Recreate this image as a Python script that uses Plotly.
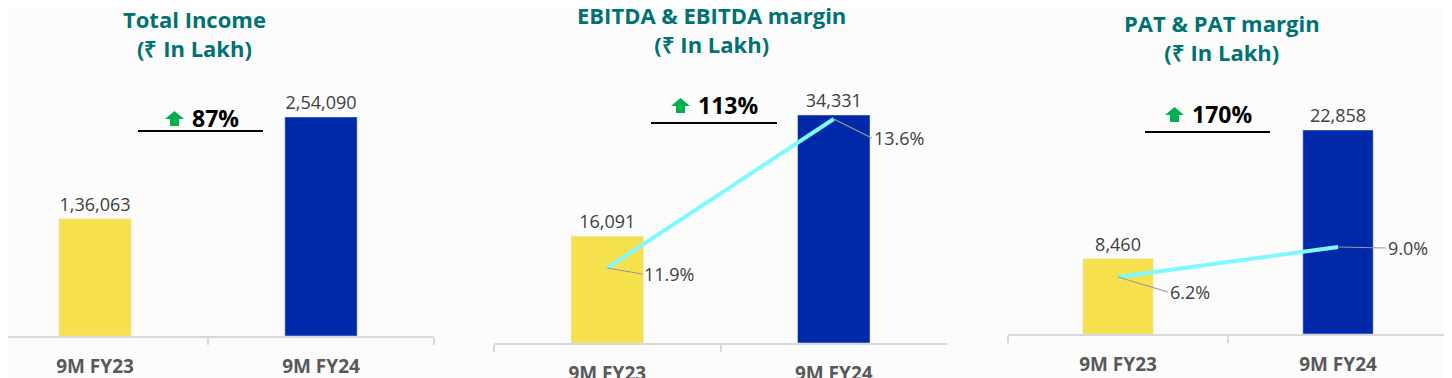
import plotly.graph_objects as go

# ---------------- data ----------------
categories = ["9M FY23", "9M FY24"]
income_vals = [136063, 254090]
ebitda_vals = [16091, 34331]
ebitda_margin = [11.9, 13.6]
pat_vals = [8460, 22858]
pat_margin = [6.2, 9.0]
titles = ["Total Income<br>(₹ In Lakh)", "EBITDA & EBITDA margin<br>(₹ In Lakh)", "PAT & PAT margin<br>(₹ In Lakh)"]

# ---------------- style ----------------
OX, OY = 8, 8          # page body margin offset
FW, FH = 1444, 370     # figure size
YELLOW = "#F6E04B"
BLUE = "#0029A9"
CYAN = "#7DF9FF"
TEAL = "#007272"
GREEN = "#00B050"
LABEL = "#404040"
CAT = "#595959"
AXIS = "#D9D9D9"
FONT = "Open Sans"


def inr(n):
    s = str(int(n))
    if len(s) <= 3:
        return s
    last3, rest = s[-3:], s[:-3]
    groups = []
    while len(rest) > 2:
        groups.insert(0, rest[-2:])
        rest = rest[:-2]
    if rest:
        groups.insert(0, rest)
    return ",".join(groups) + "," + last3


def px(x):
    return (x - OX) / FW


def py(y):
    return (FH - (y - OY)) / FH


fig = go.Figure()

bar_colors = [YELLOW, BLUE]
bar_text_font = dict(family=FONT, size=18, color=LABEL)

fig.add_trace(go.Bar(x=categories, y=income_vals, xaxis="x", yaxis="y",
                     marker=dict(color=bar_colors), width=0.32,
                     text=[inr(v) for v in income_vals], textposition="outside",
                     textfont=bar_text_font, cliponaxis=False, showlegend=False, hoverinfo="skip"))
fig.add_trace(go.Bar(x=categories, y=ebitda_vals, xaxis="x2", yaxis="y2",
                     marker=dict(color=bar_colors), width=0.32,
                     text=[inr(v) for v in ebitda_vals], textposition="outside",
                     textfont=bar_text_font, cliponaxis=False, showlegend=False, hoverinfo="skip"))
fig.add_trace(go.Scatter(x=categories, y=ebitda_margin, xaxis="x2", yaxis="y3", mode="lines",
                         line=dict(color=CYAN, width=4), showlegend=False, hoverinfo="skip"))
fig.add_trace(go.Bar(x=categories, y=pat_vals, xaxis="x3", yaxis="y4",
                     marker=dict(color=bar_colors), width=0.32,
                     text=[inr(v) for v in pat_vals], textposition="outside",
                     textfont=bar_text_font, cliponaxis=False, showlegend=False, hoverinfo="skip"))
fig.add_trace(go.Scatter(x=categories, y=pat_margin, xaxis="x3", yaxis="y5", mode="lines",
                         line=dict(color=CYAN, width=4), showlegend=False, hoverinfo="skip"))

xcommon = dict(type="category", showline=True, linecolor=AXIS, linewidth=1.5,
               ticks="outside", tickson="boundaries", ticklen=7, tickcolor=AXIS, tickwidth=1.5,
               showgrid=False, zeroline=False, fixedrange=True, automargin=False,
               tickfont=dict(family=FONT, size=19, color=CAT, weight="bold"),
               ticklabelstandoff=12)
ycommon = dict(visible=False, showgrid=False, zeroline=False, fixedrange=True, automargin=False)

top_px = 80
fig.update_layout(
    width=FW, height=FH,
    margin=dict(l=0, r=0, t=0, b=0, autoexpand=False),
    paper_bgcolor="#FCFCFC", plot_bgcolor="rgba(0,0,0,0)",
    xaxis=dict(xcommon, domain=[0, px(434)], range=[-0.385, 1.5], anchor="y"),
    xaxis2=dict(xcommon, domain=[px(494), px(947)], range=[-0.5, 1.5], anchor="y2"),
    xaxis3=dict(xcommon, domain=[px(1008), px(1448)], range=[-0.5, 1.5], anchor="y4"),
    yaxis=dict(ycommon, domain=[py(336), py(top_px)], range=[0, 297010], anchor="x"),
    yaxis2=dict(ycommon, domain=[py(343), py(top_px)], range=[0, 39601], anchor="x2"),
    yaxis3=dict(ycommon, overlaying="y2", range=[11.044, 14.045], anchor="x2"),
    yaxis4=dict(ycommon, domain=[py(334), py(top_px)], range=[0, 28461], anchor="x3"),
    yaxis5=dict(ycommon, overlaying="y4", range=[0.88, 24.59], anchor="x3"),
)

# titles
title_pos = [(194, 34), (711, 30), (1222, 38)]
for t, (cx, cy) in zip(titles, title_pos):
    fig.add_annotation(text=t, x=px(cx), y=py(cy), xref="paper", yref="paper",
                       showarrow=False, align="center", xanchor="center", yanchor="middle",
                       font=dict(family=FONT, size=22, color=TEAL, weight="bold"))

# margin labels with leader lines
margin_labels = [
    ("x2", "y3", categories[0], ebitda_margin[0], 35, 6),
    ("x2", "y3", categories[1], ebitda_margin[1], 38, 19),
    ("x3", "y5", categories[0], pat_margin[0], 50, 15),
    ("x3", "y5", categories[1], pat_margin[1], 48, 1),
]
for xr, yr, xv, yv, ax, ay in margin_labels:
    fig.add_annotation(x=xv, y=yv, xref=xr, yref=yr, text=f"{yv:.1f}%",
                       showarrow=True, arrowhead=0, arrowwidth=1.2, arrowcolor="#9A9A9A",
                       ax=ax, ay=ay, xanchor="left", yanchor="middle",
                       font=dict(family=FONT, size=18, color=LABEL))

# growth badges
growth = [
    (income_vals, 165, 111, 138, 263, 131),
    (ebitda_vals, 671, 98, 651, 777, 123),
    (pat_vals, 1165, 107, 1145, 1270, 132),
]
for vals, ax0, atop, l0, l1, ly in growth:
    g = round((vals[1] / vals[0] - 1) * 100)
    aw, ah = 19, 15
    head_h = 8
    sx0, sx1 = ax0 + 5, ax0 + aw - 5
    pts = [(ax0, atop + head_h), (ax0 + aw / 2, atop), (ax0 + aw, atop + head_h),
           (sx1, atop + head_h), (sx1, atop + ah), (sx0, atop + ah), (sx0, atop + head_h)]
    path = "M " + " L ".join(f"{px(a):.5f},{py(b):.5f}" for a, b in pts) + " Z"
    fig.add_shape(type="path", path=path, xref="paper", yref="paper",
                  fillcolor=GREEN, line=dict(width=0))
    fig.add_annotation(text=f"{g}%", x=px(ax0 + aw + 6), y=py(atop + ah / 2),
                       xref="paper", yref="paper", showarrow=False,
                       xanchor="left", yanchor="middle",
                       font=dict(family=FONT, size=23, color="#000000", weight="bold"))
    fig.add_shape(type="line", x0=px(l0), x1=px(l1), y0=py(ly), y1=py(ly),
                  xref="paper", yref="paper", line=dict(color="#000000", width=2))

fig.write_html("out.html")
